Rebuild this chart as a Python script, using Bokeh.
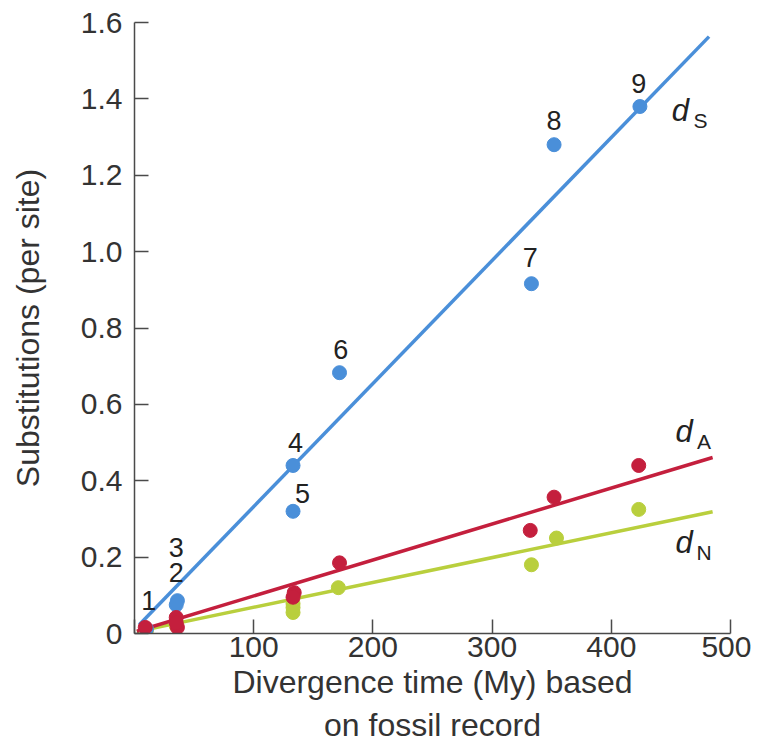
from bokeh.plotting import figure
from bokeh.models import Range1d, FixedTicker, Label, ColumnDataSource
from bokeh.core.properties import value
from bokeh.embed import file_html
from bokeh.resources import INLINE

# ---- data ----
ds_x = [10, 36, 35, 133, 133, 172, 333, 352, 424]
ds_y = [0.012, 0.086, 0.075, 0.44, 0.32, 0.683, 0.916, 1.28, 1.38]
ds_labels = ["1", "2", "3", "4", "5", "6", "7", "8", "9"]
ds_label_x = [12, 35, 35, 135, 141, 173, 332, 352, 423]
ds_label_y = [0.086, 0.16, 0.225, 0.50, 0.367, 0.745, 0.985, 1.343, 1.44]

da_x = [9, 35, 36, 35, 134, 133, 172, 332, 352, 423]
da_y = [0.016, 0.042, 0.016, 0.028, 0.107, 0.095, 0.185, 0.27, 0.357, 0.44]

dn_x = [10, 35, 133, 133, 133, 171, 333, 354, 423]
dn_y = [0.008, 0.02, 0.078, 0.055, 0.068, 0.12, 0.18, 0.25, 0.325]

ds_line_x = [4, 482]
ds_line_y = [0.023, 1.563]
da_line_x = [2, 485]
da_line_y = [0.006, 0.461]
dn_line_x = [2, 485]
dn_line_y = [0.005, 0.319]

x_ticks = [0, 100, 200, 300, 400, 500]
y_ticks = [0, 0.2, 0.4, 0.6, 0.8, 1.0, 1.2, 1.4, 1.6]
y_tick_labels = {0: "0", 0.2: "0.2", 0.4: "0.4", 0.6: "0.6", 0.8: "0.8",
                 1.0: "1.0", 1.2: "1.2", 1.4: "1.4", 1.6: "1.6"}
x_tick_labels = {0: "", 100: "100", 200: "200", 300: "300", 400: "400", 500: "500"}

BLUE = "#4a8fd9"
RED = "#c41f3d"
GREEN = "#b9cf3d"
FONT = "Liberation Sans"
AXC = "#4a4a4a"

p = figure(width=751, height=745, output_backend="svg", toolbar_location=None,
           x_range=Range1d(0, 500), y_range=Range1d(0, 1.6),
           min_border_left=134, min_border_right=21, min_border_top=22,
           min_border_bottom=108)
p.outline_line_color = None
p.xgrid.visible = False
p.ygrid.visible = False

for ax in (p.xaxis[0], p.yaxis[0]):
    ax.axis_line_color = AXC
    ax.axis_line_width = 1.5
    ax.major_tick_line_color = AXC
    ax.major_tick_line_width = 1.5
    ax.major_tick_in = 14
    ax.major_tick_out = 0
    ax.minor_tick_line_color = None
    ax.major_label_text_font = FONT
    ax.major_label_text_font_size = "30px"
    ax.major_label_text_color = "#333333"
    ax.axis_label_text_font = FONT
    ax.axis_label_text_font_style = "normal"
    ax.axis_label_text_color = "#333333"

p.xaxis[0].ticker = FixedTicker(ticks=x_ticks)
p.yaxis[0].ticker = FixedTicker(ticks=y_ticks)
p.xaxis[0].major_label_overrides = x_tick_labels
p.yaxis[0].major_label_overrides = y_tick_labels
p.xaxis[0].major_label_standoff = 3
p.yaxis[0].major_label_standoff = 12
p.xaxis[0].axis_label = "Divergence time (My) based\non fossil record"
p.yaxis[0].axis_label = "Substitutions (per site)"
p.xaxis[0].axis_label_text_font_size = "32px"
p.yaxis[0].axis_label_text_font_size = "32px"
p.xaxis[0].axis_label_standoff = 4
p.yaxis[0].axis_label_standoff = 32

p.line(ds_line_x, ds_line_y, line_color=BLUE, line_width=3.5)
p.line(dn_line_x, dn_line_y, line_color=GREEN, line_width=3.5)
p.line(da_line_x, da_line_y, line_color=RED, line_width=3.5)

p.scatter(dn_x, dn_y, size=14, fill_color=GREEN, line_color=GREEN)
p.scatter(ds_x, ds_y, size=14, fill_color=BLUE, line_color=BLUE)
p.scatter(da_x, da_y, size=14, fill_color=RED, line_color=RED)

src = ColumnDataSource(dict(x=ds_label_x, y=ds_label_y, t=ds_labels))
p.text(x="x", y="y", text="t", source=src, text_font=value(FONT),
       text_font_size="27px", text_color="#222222",
       text_align="center", text_baseline="middle")

def sublabel(x, y, sub):
    p.add_layout(Label(x=x, y=y, text="d", text_font=FONT, text_font_style="italic",
                       text_font_size="31px", text_color="#222222",
                       text_align="center", text_baseline="middle"))
    p.add_layout(Label(x=x, y=y, x_offset=20, y_offset=-10, text=sub, text_font=FONT,
                       text_font_size="21px", text_color="#222222",
                       text_align="center", text_baseline="middle"))

sublabel(458, 1.37, "S")
sublabel(461, 0.53, "A")
sublabel(461, 0.238, "N")

open("out.html", "w").write(file_html(p, INLINE))
